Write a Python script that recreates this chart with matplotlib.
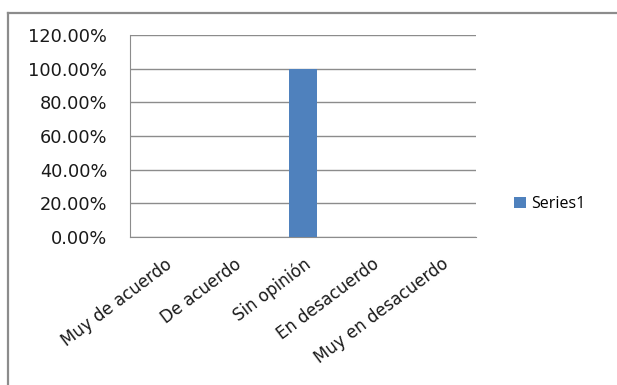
import matplotlib
matplotlib.use("Agg")
import matplotlib.pyplot as plt
from matplotlib.lines import Line2D
from matplotlib.ticker import FuncFormatter, MultipleLocator

categories = ["Muy de acuerdo", "De acuerdo", "Sin opinión", "En desacuerdo", "Muy en desacuerdo"]
values = [0.0, 0.0, 1.0, 0.0, 0.0]
series_name = "Series1"

plt.rcParams["font.family"] = ["DejaVu Sans"]

W, H = 617, 385
fig = plt.figure(figsize=(W / 100, H / 100), dpi=100)

# outer chart border (left and top edges visible)
border = "#8c8c8c"
fig.add_artist(Line2D([8 / W, 8 / W], [1 - 13 / H, 0], transform=fig.transFigure, color=border, lw=1.6))
fig.add_artist(Line2D([8 / W, 1], [1 - 13 / H, 1 - 13 / H], transform=fig.transFigure, color=border, lw=1.6))

ax = fig.add_axes([130 / W, 1 - 237 / H, (476 - 130) / W, (237 - 35) / H])
x = range(len(categories))
ax.bar(x, values, width=0.4, color="#4F81BD", label=series_name, zorder=3)

ax.set_xlim(-0.5, len(categories) - 0.5)
ax.set_ylim(0, 1.2)
ax.yaxis.set_major_locator(MultipleLocator(0.2))
ax.yaxis.set_major_formatter(FuncFormatter(lambda v, p: f"{v * 100:.2f}%"))
ax.grid(axis="y", color="#8c8c8c", lw=1.0, zorder=0)

for s in ("top", "right"):
    ax.spines[s].set_visible(False)
ax.spines["left"].set_color("#8c8c8c")
ax.spines["bottom"].set_color("#8c8c8c")

ax.set_xticks(list(x))
ax.set_xticklabels(categories, rotation=37, ha="right", rotation_mode="anchor", fontsize=12)
ax.tick_params(axis="both", length=0, colors="#1a1a1a")
ax.tick_params(axis="y", pad=16.5, labelsize=12.8)
ax.tick_params(axis="x", pad=13)

fig.legend(loc="center left", bbox_to_anchor=(500 / W, 1 - 204 / H), frameon=False,
           prop={"family": "Open Sans", "size": 11.5}, handlelength=0.75, handleheight=0.75,
           handletextpad=0.3)

fig.savefig("out.png", dpi=100, facecolor="white")
